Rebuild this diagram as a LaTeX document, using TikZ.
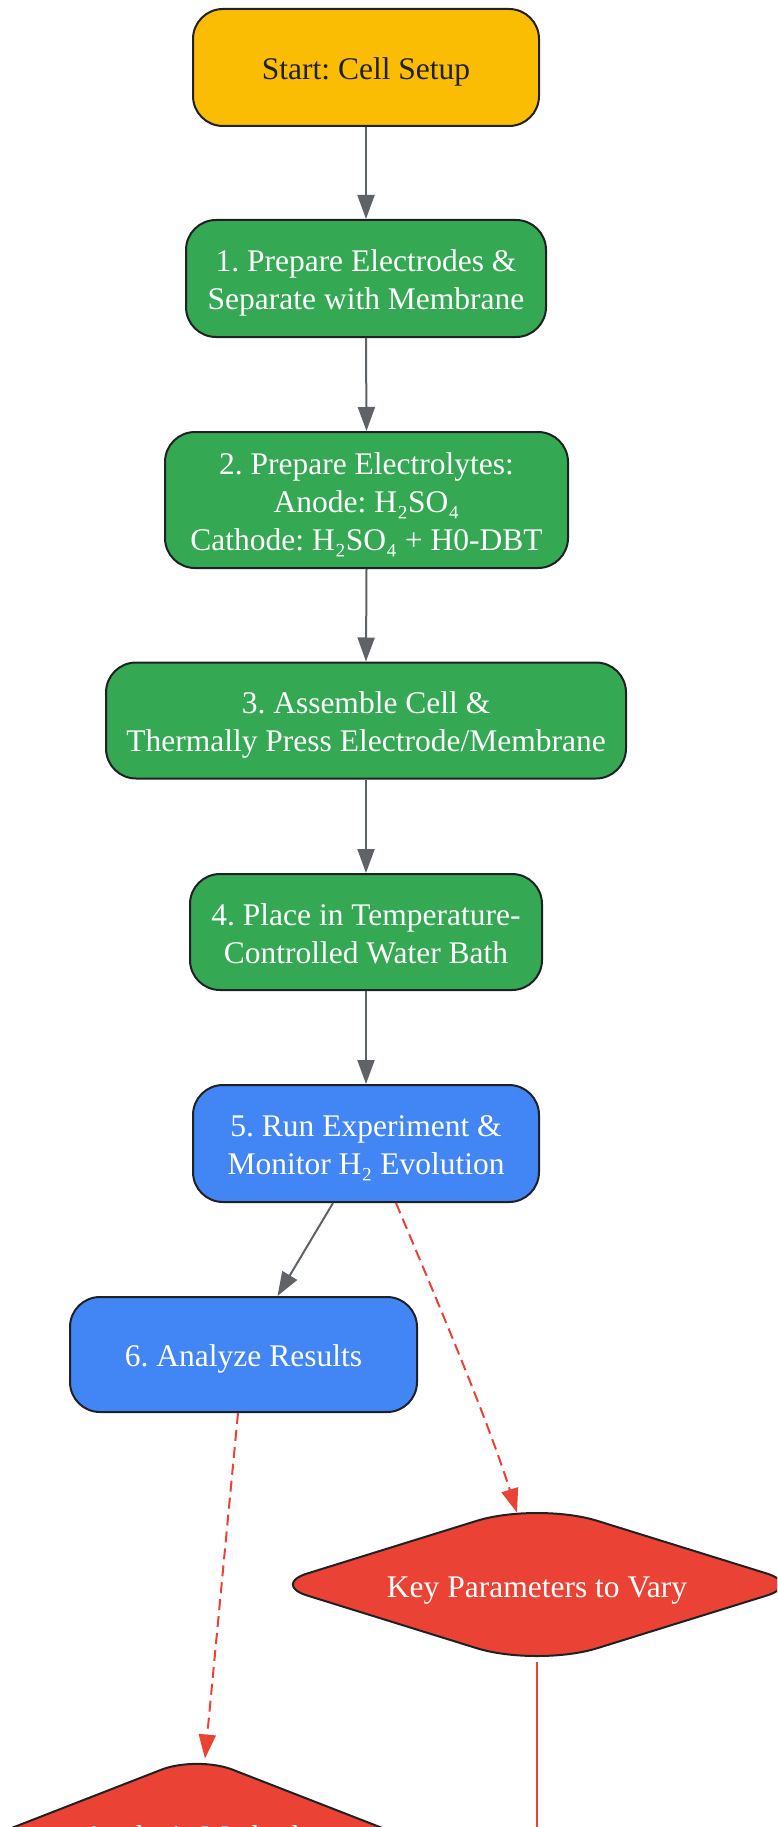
\documentclass[tikz,border=0pt]{standalone}
\usepackage{fontspec}
\setmainfont{Liberation Serif}
\usetikzlibrary{arrows.meta,shapes.geometric,calc}
\definecolor{yel}{HTML}{FBBC04}
\definecolor{grn}{HTML}{34A853}
\definecolor{blu}{HTML}{4285F4}
\definecolor{rd}{HTML}{EA4335}
\definecolor{bord}{HTML}{202124}
\definecolor{gry}{HTML}{5F6368}
\pgfdeclarelayer{bg}
\pgfsetlayers{bg,main}
\frenchspacing
\newcommand{\nodefnt}{\fontsize{31.5pt}{38pt}\selectfont}
\newcommand{\tx}[2][4.5pt]{\raisebox{-#1}[\height][\depth]{\begin{tabular}{@{}c@{}}#2\end{tabular}}}
% #1 node, #2 top/bottom tangent, #3 its control, #4 side tangent, #5 its control
\newcommand{\roundia}[5]{%
  \begin{pgfonlayer}{bg}
  \begin{scope}
  \clip (0,0) rectangle (777,1827);
  \filldraw[fill=rd, draw=bord, line width=2pt]
   ($(#1.north)!#2!(#1.east)$) .. controls ($(#1.north)!#3!(#1.east)$) and ($(#1.north)!#3!(#1.west)$) .. ($(#1.north)!#2!(#1.west)$)
   -- ($(#1.west)!#4!(#1.north)$) .. controls ($(#1.west)!#5!(#1.north)$) and ($(#1.west)!#5!(#1.south)$) .. ($(#1.west)!#4!(#1.south)$)
   -- ($(#1.south)!#2!(#1.west)$) .. controls ($(#1.south)!#3!(#1.west)$) and ($(#1.south)!#3!(#1.east)$) .. ($(#1.south)!#2!(#1.east)$)
   -- ($(#1.east)!#4!(#1.south)$) .. controls ($(#1.east)!#5!(#1.south)$) and ($(#1.east)!#5!(#1.north)$) .. ($(#1.east)!#4!(#1.north)$)
   -- cycle;
  \end{scope}
  \end{pgfonlayer}}
\tikzset{
  box/.style={draw=bord, line width=2pt, rounded corners=30pt,
    inner sep=0pt, text=white, font=\nodefnt},
  dia/.style={diamond, draw=none, inner sep=0pt, text=white, font=\nodefnt},
  garr/.style={draw=gry, line width=2pt, -{Triangle[length=24pt,width=17pt]}},
  rarr/.style={draw=rd, line width=2pt, dash pattern=on 11pt off 6pt,
    -{Triangle[length=24pt,width=17pt]}},
  rline/.style={draw=rd, line width=2pt}
}
\begin{document}
\begin{tikzpicture}[x=1pt,y=-1pt]
\useasboundingbox (0,0) rectangle (777,1827);
\clip (0,0) rectangle (777,1827);
\begin{pgfonlayer}{bg}
\fill[white] (0,0) rectangle (777,1827);
\end{pgfonlayer}
\node[box, fill=yel, text=bord, minimum width=346pt, minimum height=117pt] (s) at (366,67.5) {\tx{Start: Cell Setup}};
\node[box, fill=grn, minimum width=360pt, minimum height=117pt] (n1) at (366,278.5) {\tx{1. Prepare Electrodes \&\\Separate with Membrane}};
\node[box, fill=grn, minimum width=403pt, minimum height=136pt] (n2) at (366.5,500) {\tx{2. Prepare Electrolytes:\\Anode: H₂SO₄\\Cathode: H₂SO₄ + H0-DBT}};
\node[box, fill=grn, minimum width=520pt, minimum height=116pt] (n3) at (366,720.5) {\tx{3. Assemble Cell \&\\Thermally Press Electrode/Membrane}};
\node[box, fill=grn, minimum width=352pt, minimum height=116pt] (n4) at (366,932) {\tx{4. Place in Temperature-\\Controlled Water Bath}};
\node[box, fill=blu, minimum width=346pt, minimum height=117pt] (n5) at (366,1143.5) {\tx{5. Run Experiment \&\\Monitor H₂ Evolution}};
\node[box, fill=blu, minimum width=347pt, minimum height=115pt] (n6) at (243.5,1354.5) {\tx{6. Analyze Results}};
\node[dia, aspect=3.22, minimum width=530pt, minimum height=164.4pt] (kp) at (537,1584.5) {\tx[5.5pt]{Key Parameters to Vary}};
\roundia{kp}{63pt}{28pt}{37pt}{17pt}
\node[dia, aspect=2.57, minimum width=432pt, minimum height=168pt] (an) at (197,1840) {\tx[0pt]{Analysis Methods}};
\roundia{an}{38pt}{17pt}{30pt}{13.5pt}
\coordinate (kpend) at (537,1900);
\draw[garr] (s.south) -- (n1.north);
\draw[garr] (n1.south) -- (n2.north);
\draw[garr] (n2.south) -- (n3.north);
\draw[garr] (n3.south) -- (n4.north);
\draw[garr] (n4.south) -- (n5.north);
\draw[garr] ([xshift=-33pt]n5.south) -- ([xshift=34pt]n6.north);
\draw[rarr] ([xshift=30pt]n5.south) .. controls +(40,95) and +(-30,-95) .. ([xshift=-20pt,yshift=-10.5pt]kp.north);
\draw[rarr] ([xshift=-5.5pt]n6.south) -- ([xshift=8pt,yshift=-2.7pt]an.north);
\draw[rline] ([yshift=4.7pt]kp.south) -- (kpend);
\end{tikzpicture}
\end{document}
